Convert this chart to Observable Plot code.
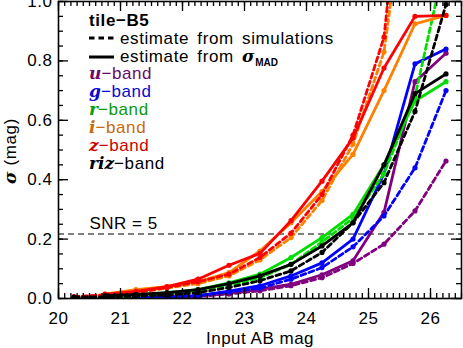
<!DOCTYPE html>
<html>
<head>
<meta charset="utf-8">
<script src="https://cdn.jsdelivr.net/npm/d3@7"></script>
<script src="https://cdn.jsdelivr.net/npm/@observablehq/plot@0.6"></script>
<style>
  html, body { margin: 0; padding: 0; background: #fff; }
  svg { overflow: visible; }
</style>
</head>
<body>
<div id="chart"></div>
<script>
// ---- data ----
const mag = [20.25, 20.75, 21.25, 21.75, 22.25, 22.75, 23.25, 23.75, 24.25, 24.75, 25.25, 25.75, 26.25];

// sigma from sigma_MAD (solid lines); null = no point
const u_mad   = [null, 0.000, 0.001, 0.003, 0.008, 0.017, 0.031, 0.048, 0.080, 0.127, 0.290, 0.730, 0.826];
const g_mad   = [null, 0.001, 0.003, 0.005, 0.010, 0.025, 0.043, 0.076, 0.120, 0.200, 0.420, 0.790, 0.840];
const r_mad   = [null, 0.005, 0.010, 0.020, 0.030, 0.053, 0.082, 0.138, 0.205, 0.283, 0.450, 0.665, 0.730];
const i_mad   = [null, 0.015, 0.030, 0.040, 0.056, 0.087, 0.160, 0.255, 0.360, 0.485, 0.700, 0.925, 0.953];
const z_mad   = [null, 0.015, 0.024, 0.040, 0.065, 0.112, 0.152, 0.262, 0.395, 0.540, 0.776, 0.950, 0.953];
const riz_mad = [null, 0.010, 0.014, 0.020, 0.030, 0.050, 0.076, 0.115, 0.177, 0.255, 0.450, 0.690, 0.756];

// sigma estimated from simulations (dashed lines)
const u_sim   = [0.002, 0.000, 0.001, 0.003, 0.007, 0.015, 0.026, 0.043, 0.070, 0.118, 0.183, 0.295, 0.463];
const g_sim   = [0.002, 0.001, 0.002, 0.005, 0.010, 0.022, 0.035, 0.065, 0.104, 0.174, 0.278, 0.440, 0.700];
const r_sim   = [0.003, 0.004, 0.008, 0.015, 0.025, 0.045, 0.070, 0.115, 0.190, 0.270, 0.420, 0.680, 1.150];
const i_sim   = [0.004, 0.012, 0.020, 0.035, 0.050, 0.076, 0.130, 0.205, 0.330, 0.520, 0.830, 1.600, 2.400];
const z_sim   = [0.006, 0.012, 0.020, 0.037, 0.056, 0.082, 0.138, 0.220, 0.350, 0.550, 0.880, 1.850, 2.800];
const riz_sim = [0.005, 0.005, 0.008, 0.012, 0.020, 0.037, 0.060, 0.093, 0.155, 0.255, 0.390, 0.630, 0.990];

const bands  = ["u", "g", "r", "i", "z", "riz"];
const colors = ["#800080", "#0000ff", "#00dd00", "#ff8000", "#ff0000", "#000000"];
const madSeries = [u_mad, g_mad, r_mad, i_mad, z_mad, riz_mad];
const simSeries = [u_sim, g_sim, r_sim, i_sim, z_sim, riz_sim];

const snrLevel = 1.0857 / 5;   // sigma at SNR = 5
const snrLabel = "SNR = 5";

const xTicks = [20, 21, 22, 23, 24, 25, 26];
const yTicks = [0, 0.2, 0.4, 0.6, 0.8, 1.0];
const xMinor = d3.range(200, 266, 1).map(d => d / 10);
const yMinor = d3.range(0, 21, 1).map(d => d / 20);

const legendTitle = "tile\u2212B5";
const legendSim = "estimate from simulations";
const legendMad = "estimate from ";

// ---- long table ----
const rows = [];
bands.forEach((b, k) => {
  mag.forEach((m, j) => {
    if (simSeries[k][j] != null) rows.push({band: b, kind: "sim", mag: m, sigma: simSeries[k][j]});
    if (madSeries[k][j] != null) rows.push({band: b, kind: "mad", mag: m, sigma: madSeries[k][j]});
  });
});

const W = 463, H = 348, mL = 58, mR = 2, mT = 1, mB = 50;
const fh = H - mT - mB, fw = W - mL - mR;
const font = "'Liberation Sans', Arial, sans-serif";

const marks = [];
bands.forEach(b => {
  const sim = rows.filter(d => d.band === b && d.kind === "sim");
  const mad = rows.filter(d => d.band === b && d.kind === "mad");
  marks.push(Plot.line(sim, {x: "mag", y: "sigma", stroke: "band", strokeWidth: 2.8, strokeDasharray: "5,3.5", clip: true}));
  marks.push(Plot.dot(sim, {x: "mag", y: "sigma", fill: "band", r: 2.6, clip: true}));
  marks.push(Plot.line(mad, {x: "mag", y: "sigma", stroke: "band", strokeWidth: 2.8, clip: true}));
  marks.push(Plot.dot(mad, {x: "mag", y: "sigma", fill: "band", r: 2.6, clip: true}));
});

const tickStyle = {stroke: "#000", strokeWidth: 1.3};
const chart = Plot.plot({
  width: W, height: H,
  marginLeft: mL, marginRight: mR, marginTop: mT, marginBottom: mB,
  style: {fontFamily: font, fontSize: "17px", background: "#fff", color: "#000"},
  x: {domain: [20, 26.5], axis: null},
  y: {domain: [0, 1.0], axis: null},
  color: {domain: bands, range: colors},
  marks: [
    Plot.ruleY([snrLevel], {stroke: "#000", strokeWidth: 1, strokeDasharray: "6,4"}),
    ...marks,
    Plot.frame({stroke: "#000", strokeWidth: 1.6}),
    // inward ticks on all four sides
    Plot.tickX(xMinor, {x: d => d, insetTop: fh - 5, ...tickStyle}),
    Plot.tickX(xMinor, {x: d => d, insetBottom: fh - 5, ...tickStyle}),
    Plot.tickX(xTicks, {x: d => d, insetTop: fh - 10, ...tickStyle}),
    Plot.tickX(xTicks, {x: d => d, insetBottom: fh - 10, ...tickStyle}),
    Plot.tickY(yMinor, {y: d => d, insetRight: fw - 5, ...tickStyle}),
    Plot.tickY(yMinor, {y: d => d, insetLeft: fw - 5, ...tickStyle}),
    Plot.tickY(yTicks, {y: d => d, insetRight: fw - 10, ...tickStyle}),
    Plot.tickY(yTicks, {y: d => d, insetLeft: fw - 10, ...tickStyle}),
    Plot.axisX(xTicks, {tickSize: 0, tickPadding: 13, fontSize: 17, label: null, tickFormat: d => String(d)}),
    Plot.axisY(yTicks, {tickSize: 0, tickPadding: 6, fontSize: 17, label: null, tickFormat: d3.format(".1f")}),
    Plot.text([snrLabel], {frameAnchor: "top-left", dx: 31, dy: 215, fontSize: 17, textAnchor: "start", lineAnchor: "top", fill: "#000"}),
    Plot.text(["Input AB mag"], {frameAnchor: "bottom", dy: 40, fontSize: 17, lineAnchor: "middle", fill: "#000"})
  ]
});
document.getElementById("chart").appendChild(chart);

const svg = d3.select(chart);
svg.selectAll("text").attr("letter-spacing", "0.5");

// ---- legend and y-axis title ----
const lg = svg.append("g").attr("font-family", font).attr("font-size", 17).attr("letter-spacing", 0.6)
  .attr("text-anchor", "start").attr("fill", "#000");
const lx = 89;
lg.append("text").attr("x", lx).attr("y", 20).attr("dy", "0.35em").attr("font-weight", "bold").text(legendTitle);
lg.append("line").attr("x1", lx).attr("x2", lx + 25).attr("y1", 38).attr("y2", 38)
  .attr("stroke", "#000").attr("stroke-width", 3).attr("stroke-dasharray", "5.5,4");
lg.append("text").attr("x", lx + 31).attr("y", 38).attr("dy", "0.35em").attr("word-spacing", 3).text(legendSim);
lg.append("line").attr("x1", lx).attr("x2", lx + 25).attr("y1", 57).attr("y2", 57)
  .attr("stroke", "#000").attr("stroke-width", 3);
const madT = lg.append("text").attr("x", lx + 31).attr("y", 56).attr("dy", "0.35em").attr("word-spacing", 3);
madT.append("tspan").text(legendMad);
madT.append("tspan").attr("font-family", "'DejaVu Serif', serif").attr("font-style", "italic").attr("font-weight", "bold").text("\u03c3");
madT.append("tspan").attr("font-size", 10).attr("font-weight", "bold").attr("letter-spacing", 0).attr("dy", "0.45em").text("MAD");

const bandY = [73, 91.5, 109.5, 127.5, 145.5, 163.5];
const textColors = ["#6a0a6a", "#0a0ad0", "#0a9a0a", "#c86a0a", "#cc0000", "#000000"];
bands.forEach((b, k) => {
  const t = lg.append("text").attr("x", lx).attr("y", bandY[k]).attr("dy", "0.35em").attr("fill", textColors[k]);
  t.append("tspan").attr("font-family", "'DejaVu Serif', serif").attr("font-style", "italic").attr("font-weight", "bold").attr("letter-spacing", 0).text(b);
  t.append("tspan").text("\u2212band");
});

const yt = svg.append("text").attr("font-family", font).attr("font-size", 17).attr("letter-spacing", 0.6)
  .attr("transform", "translate(16,151) rotate(-90)").attr("text-anchor", "middle").attr("fill", "#000");
yt.append("tspan").attr("font-family", "'DejaVu Serif', serif").attr("font-style", "italic").attr("font-weight", "bold").text("\u03c3");
yt.append("tspan").text(" (mag)");
</script>
</body>
</html>
